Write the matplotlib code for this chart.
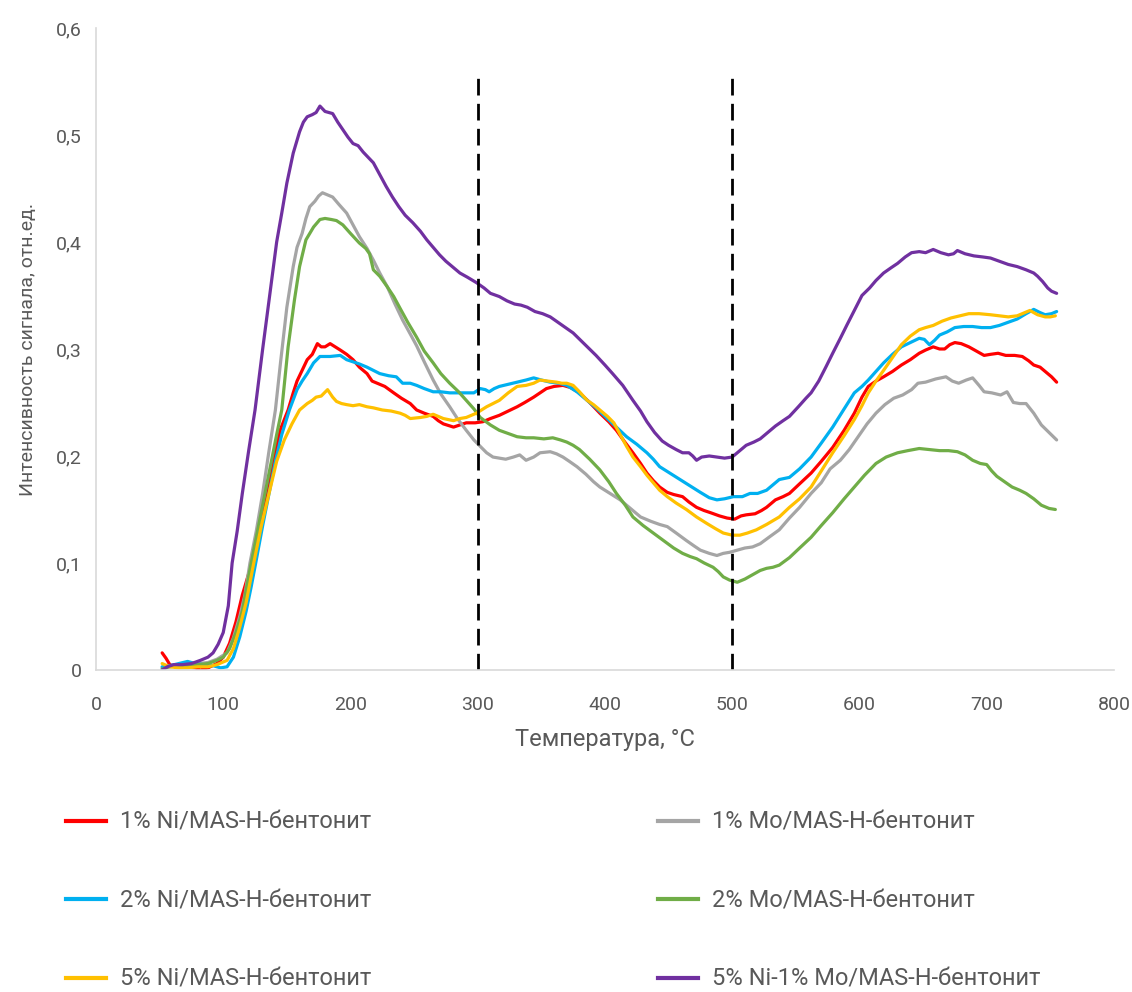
import matplotlib
matplotlib.use('Agg')
import matplotlib.pyplot as plt
from matplotlib.lines import Line2D

plt.rcParams['font.family'] = ['Roboto', 'DejaVu Sans']

# Температура, °C и сигнал для каждого образца
t_ni1 = [52, 55, 58, 62, 70, 78, 82, 88, 95, 100, 105, 110, 115, 120, 125, 130, 135, 140, 145, 151, 155, 158, 162, 166, 170, 174, 177, 180, 184, 188, 192, 197, 202, 207, 213, 217, 221, 227, 234, 240, 247, 252, 258, 265, 269, 273, 281, 286, 291, 298, 304, 310, 317, 324, 331, 337, 344, 349, 354, 360, 367, 373, 380, 388, 396, 403, 409, 415, 422, 428, 433, 438, 443, 449, 454, 461, 466, 472, 478, 483, 490, 496, 502, 507, 511, 518, 523, 527, 534, 540, 545, 553, 562, 570, 579, 588, 596, 602, 607, 613, 619, 626, 633, 640, 647, 652, 658, 663, 667, 671, 675, 680, 686, 692, 698, 703, 709, 715, 722, 728, 733, 737, 742, 746, 751, 755]
v_ni1 = [0.016, 0.011, 0.005, 0.003, 0.003, 0.002, 0.0, 0.002, 0.006, 0.012, 0.025, 0.045, 0.07, 0.09, 0.11, 0.14, 0.17, 0.2, 0.225, 0.243, 0.259, 0.27, 0.28, 0.29, 0.295, 0.305, 0.302, 0.302, 0.305, 0.302, 0.299, 0.295, 0.29, 0.283, 0.277, 0.27, 0.268, 0.265, 0.259, 0.254, 0.249, 0.243, 0.24, 0.237, 0.233, 0.230, 0.227, 0.229, 0.231, 0.231, 0.232, 0.235, 0.238, 0.242, 0.246, 0.25, 0.255, 0.259, 0.263, 0.265, 0.266, 0.264, 0.259, 0.25, 0.240, 0.232, 0.224, 0.214, 0.203, 0.193, 0.184, 0.177, 0.171, 0.166, 0.164, 0.162, 0.157, 0.152, 0.149, 0.147, 0.144, 0.142, 0.141, 0.144, 0.145, 0.146, 0.149, 0.152, 0.159, 0.162, 0.165, 0.174, 0.184, 0.195, 0.208, 0.224, 0.240, 0.255, 0.265, 0.27, 0.274, 0.279, 0.285, 0.29, 0.296, 0.299, 0.302, 0.300, 0.300, 0.304, 0.306, 0.305, 0.302, 0.298, 0.294, 0.295, 0.296, 0.294, 0.294, 0.293, 0.289, 0.285, 0.283, 0.279, 0.274, 0.269]

t_mo1 = [52, 58, 65, 72, 80, 88, 95, 103, 108, 113, 117, 121, 126, 131, 136, 141, 145, 150, 155, 158, 162, 165, 168, 172, 175, 178, 182, 186, 191, 197, 202, 207, 213, 218, 223, 229, 235, 241, 247, 252, 258, 265, 271, 278, 284, 291, 297, 302, 307, 312, 317, 322, 328, 333, 338, 344, 349, 357, 362, 367, 372, 378, 385, 391, 396, 404, 412, 420, 428, 436, 443, 449, 456, 464, 470, 475, 482, 488, 493, 498, 504, 510, 516, 522, 530, 537, 545, 553, 562, 570, 577, 585, 592, 599, 606, 613, 620, 627, 634, 641, 646, 652, 660, 668, 673, 678, 684, 689, 694, 698, 704, 711, 716, 721, 726, 731, 737, 743, 749, 755]
v_mo1 = [0.002, 0.004, 0.005, 0.005, 0.006, 0.007, 0.01, 0.016, 0.03, 0.05, 0.07, 0.1, 0.13, 0.165, 0.205, 0.243, 0.287, 0.339, 0.377, 0.395, 0.408, 0.422, 0.433, 0.438, 0.443, 0.446, 0.444, 0.442, 0.435, 0.427, 0.416, 0.405, 0.394, 0.383, 0.371, 0.358, 0.342, 0.327, 0.314, 0.303, 0.288, 0.271, 0.258, 0.246, 0.235, 0.224, 0.215, 0.209, 0.203, 0.199, 0.198, 0.197, 0.199, 0.201, 0.196, 0.199, 0.203, 0.204, 0.202, 0.199, 0.195, 0.190, 0.183, 0.176, 0.171, 0.165, 0.159, 0.151, 0.143, 0.139, 0.136, 0.134, 0.128, 0.121, 0.116, 0.112, 0.109, 0.107, 0.109, 0.110, 0.112, 0.114, 0.115, 0.118, 0.125, 0.131, 0.142, 0.152, 0.165, 0.175, 0.188, 0.196, 0.206, 0.218, 0.230, 0.240, 0.248, 0.254, 0.257, 0.262, 0.268, 0.269, 0.272, 0.274, 0.270, 0.268, 0.271, 0.273, 0.266, 0.260, 0.259, 0.257, 0.260, 0.250, 0.249, 0.249, 0.24, 0.229, 0.222, 0.215]

t_ni2 = [52, 58, 65, 72, 78, 85, 92, 98, 103, 108, 113, 118, 122, 126, 131, 136, 141, 146, 152, 158, 162, 166, 171, 176, 184, 192, 197, 202, 207, 213, 218, 223, 230, 236, 241, 247, 252, 258, 265, 271, 278, 284, 291, 297, 302, 306, 309, 313, 317, 324, 331, 338, 344, 350, 357, 364, 370, 378, 386, 393, 401, 409, 417, 425, 433, 438, 443, 451, 459, 467, 475, 482, 488, 494, 501, 508, 514, 520, 527, 532, 537, 545, 553, 562, 570, 579, 588, 596, 602, 607, 613, 619, 626, 633, 640, 647, 651, 655, 659, 663, 669, 675, 682, 689, 696, 703, 710, 717, 724, 731, 737, 742, 746, 751, 755]
v_ni2 = [0.003, 0.004, 0.006, 0.008, 0.006, 0.005, 0.004, 0.002, 0.003, 0.012, 0.031, 0.055, 0.078, 0.103, 0.135, 0.165, 0.195, 0.22, 0.243, 0.262, 0.27, 0.277, 0.287, 0.293, 0.293, 0.294, 0.290, 0.288, 0.286, 0.283, 0.28, 0.277, 0.275, 0.274, 0.268, 0.268, 0.266, 0.263, 0.260, 0.26, 0.259, 0.259, 0.259, 0.259, 0.263, 0.262, 0.260, 0.263, 0.265, 0.267, 0.269, 0.271, 0.273, 0.271, 0.269, 0.268, 0.266, 0.26, 0.252, 0.245, 0.236, 0.227, 0.218, 0.211, 0.203, 0.197, 0.190, 0.184, 0.178, 0.172, 0.166, 0.161, 0.159, 0.160, 0.162, 0.162, 0.165, 0.165, 0.168, 0.173, 0.178, 0.180, 0.188, 0.199, 0.212, 0.227, 0.244, 0.259, 0.265, 0.271, 0.279, 0.287, 0.295, 0.302, 0.306, 0.310, 0.309, 0.304, 0.308, 0.313, 0.316, 0.320, 0.321, 0.321, 0.32, 0.320, 0.322, 0.325, 0.328, 0.333, 0.337, 0.334, 0.332, 0.333, 0.335]

t_mo2 = [52, 58, 65, 72, 80, 88, 95, 100, 105, 110, 115, 118, 122, 127, 132, 137, 142, 146, 151, 156, 160, 165, 171, 176, 180, 185, 189, 194, 200, 207, 212, 215, 218, 223, 229, 234, 239, 245, 252, 258, 265, 271, 278, 285, 291, 297, 302, 310, 317, 324, 331, 338, 344, 352, 359, 365, 370, 375, 380, 388, 396, 403, 409, 416, 422, 430, 438, 446, 454, 461, 467, 472, 478, 485, 489, 493, 498, 504, 510, 516, 522, 527, 532, 537, 545, 553, 562, 570, 579, 588, 596, 604, 613, 621, 630, 638, 647, 655, 663, 670, 677, 683, 689, 695, 700, 704, 708, 714, 720, 726, 731, 737, 743, 749, 754]
v_mo2 = [0.001, 0.003, 0.004, 0.004, 0.005, 0.006, 0.009, 0.012, 0.02, 0.035, 0.055, 0.075, 0.1, 0.13, 0.16, 0.19, 0.22, 0.243, 0.302, 0.346, 0.377, 0.402, 0.414, 0.421, 0.422, 0.421, 0.420, 0.416, 0.408, 0.399, 0.394, 0.389, 0.374, 0.368, 0.358, 0.349, 0.338, 0.325, 0.311, 0.298, 0.287, 0.277, 0.268, 0.26, 0.252, 0.244, 0.236, 0.229, 0.224, 0.221, 0.218, 0.217, 0.217, 0.216, 0.217, 0.215, 0.213, 0.21, 0.206, 0.197, 0.187, 0.176, 0.165, 0.154, 0.143, 0.135, 0.128, 0.121, 0.114, 0.109, 0.106, 0.104, 0.100, 0.096, 0.092, 0.087, 0.084, 0.082, 0.085, 0.089, 0.093, 0.095, 0.096, 0.098, 0.105, 0.114, 0.124, 0.135, 0.147, 0.160, 0.171, 0.182, 0.193, 0.199, 0.203, 0.205, 0.207, 0.206, 0.205, 0.205, 0.204, 0.201, 0.196, 0.193, 0.192, 0.186, 0.181, 0.176, 0.171, 0.168, 0.165, 0.16, 0.154, 0.151, 0.150]

t_ni5 = [52, 58, 65, 72, 80, 88, 95, 103, 108, 113, 118, 124, 130, 136, 142, 148, 154, 160, 166, 170, 173, 177, 182, 186, 189, 193, 197, 202, 207, 213, 218, 225, 232, 239, 243, 247, 255, 260, 265, 269, 273, 281, 286, 291, 295, 299, 303, 307, 312, 317, 324, 331, 338, 344, 349, 355, 362, 366, 370, 375, 380, 386, 391, 396, 402, 407, 412, 417, 422, 428, 433, 438, 443, 449, 456, 464, 472, 480, 487, 493, 500, 506, 512, 519, 527, 537, 545, 553, 562, 570, 579, 588, 596, 602, 607, 613, 619, 626, 633, 640, 647, 652, 658, 665, 672, 679, 686, 694, 703, 710, 717, 724, 730, 734, 740, 746, 750, 754]
v_ni5 = [0.006, 0.003, 0.002, 0.002, 0.003, 0.003, 0.005, 0.009, 0.02, 0.04, 0.063, 0.1, 0.135, 0.165, 0.195, 0.215, 0.23, 0.243, 0.249, 0.252, 0.255, 0.256, 0.262, 0.255, 0.251, 0.249, 0.248, 0.247, 0.248, 0.246, 0.245, 0.243, 0.242, 0.240, 0.238, 0.235, 0.236, 0.237, 0.239, 0.237, 0.235, 0.233, 0.235, 0.236, 0.238, 0.240, 0.243, 0.246, 0.249, 0.252, 0.259, 0.265, 0.266, 0.268, 0.271, 0.270, 0.269, 0.268, 0.268, 0.266, 0.26, 0.252, 0.248, 0.243, 0.237, 0.231, 0.22, 0.209, 0.199, 0.190, 0.182, 0.175, 0.168, 0.162, 0.156, 0.150, 0.143, 0.137, 0.132, 0.128, 0.126, 0.126, 0.128, 0.131, 0.136, 0.143, 0.152, 0.16, 0.171, 0.186, 0.203, 0.219, 0.234, 0.247, 0.259, 0.27, 0.280, 0.292, 0.304, 0.312, 0.318, 0.320, 0.322, 0.326, 0.329, 0.331, 0.333, 0.333, 0.332, 0.331, 0.330, 0.331, 0.334, 0.336, 0.332, 0.330, 0.330, 0.331]

t_nimo = [52, 56, 61, 68, 75, 82, 88, 92, 96, 100, 104, 107, 111, 115, 120, 125, 131, 138, 142, 146, 150, 155, 160, 163, 166, 170, 173, 176, 180, 186, 190, 194, 198, 202, 206, 210, 214, 218, 223, 228, 233, 238, 243, 249, 255, 260, 265, 270, 275, 281, 286, 292, 299, 305, 310, 317, 323, 329, 334, 339, 345, 351, 357, 363, 369, 375, 381, 387, 393, 400, 406, 414, 422, 428, 433, 439, 445, 450, 456, 461, 466, 469, 472, 476, 482, 488, 494, 500, 505, 511, 517, 522, 528, 534, 540, 545, 552, 558, 562, 568, 574, 579, 585, 590, 596, 602, 608, 613, 619, 625, 630, 636, 641, 647, 652, 658, 664, 670, 674, 677, 683, 690, 697, 703, 710, 717, 724, 731, 737, 740, 744, 748, 751, 755]
v_nimo = [0.0, 0.003, 0.005, 0.005, 0.006, 0.009, 0.012, 0.016, 0.024, 0.035, 0.06, 0.10, 0.13, 0.165, 0.205, 0.243, 0.3, 0.364, 0.4, 0.427, 0.455, 0.483, 0.503, 0.512, 0.517, 0.519, 0.521, 0.527, 0.522, 0.520, 0.512, 0.505, 0.498, 0.492, 0.490, 0.484, 0.479, 0.474, 0.463, 0.452, 0.442, 0.433, 0.425, 0.418, 0.410, 0.402, 0.395, 0.388, 0.382, 0.376, 0.371, 0.367, 0.362, 0.357, 0.352, 0.349, 0.345, 0.342, 0.341, 0.339, 0.335, 0.333, 0.330, 0.325, 0.320, 0.315, 0.308, 0.301, 0.294, 0.285, 0.277, 0.266, 0.252, 0.242, 0.232, 0.222, 0.214, 0.210, 0.206, 0.203, 0.203, 0.200, 0.196, 0.199, 0.200, 0.199, 0.198, 0.199, 0.204, 0.210, 0.213, 0.216, 0.222, 0.228, 0.233, 0.237, 0.246, 0.254, 0.259, 0.270, 0.284, 0.296, 0.31, 0.322, 0.336, 0.35, 0.357, 0.364, 0.371, 0.376, 0.380, 0.386, 0.390, 0.391, 0.390, 0.393, 0.390, 0.388, 0.389, 0.392, 0.389, 0.387, 0.386, 0.385, 0.382, 0.379, 0.377, 0.374, 0.371, 0.368, 0.363, 0.357, 0.354, 0.352]

series = [
    ('1% Ni/MAS-H-бентонит', t_ni1, v_ni1, '#FF0000'),
    ('1% Mo/MAS-H-бентонит', t_mo1, v_mo1, '#A5A5A5'),
    ('2% Ni/MAS-H-бентонит', t_ni2, v_ni2, '#00B0F0'),
    ('2% Mo/MAS-H-бентонит', t_mo2, v_mo2, '#70AD47'),
    ('5% Ni/MAS-H-бентонит', t_ni5, v_ni5, '#FFC000'),
    ('5% Ni-1% Mo/MAS-H-бентонит', t_nimo, v_nimo, '#7030A0'),
]

# границы областей
borders = [300, 500]
border_top = 0.553

x_ticks = [0, 100, 200, 300, 400, 500, 600, 700, 800]
y_ticks = [0, 0.1, 0.2, 0.3, 0.4, 0.5, 0.6]
y_labels = ['0', '0,1', '0,2', '0,3', '0,4', '0,5', '0,6']

fig = plt.figure(figsize=(11.32, 9.92), dpi=100)
ax = fig.add_axes([0.0848, 0.3246, 0.8992, 0.6472])

for name, t, v, c in series:
    ax.plot(t, v, color=c, lw=2.3, label=name, solid_capstyle='round')

ax.vlines(borders, 0, border_top, colors='black', linestyles=(0, (6, 3)), lw=2)

ax.set_xlim(0, 800)
ax.set_ylim(0, 0.6)
ax.set_xticks(x_ticks)
ax.set_xticklabels([str(x) for x in x_ticks])
ax.set_yticks(y_ticks)
ax.set_yticklabels(y_labels)
ax.tick_params(length=0, labelsize=14, colors='#595959')
ax.tick_params(axis='x', pad=19)
ax.tick_params(axis='y', pad=10)
for s in ['top', 'right']:
    ax.spines[s].set_visible(False)
for s in ['left', 'bottom']:
    ax.spines[s].set_color('#D9D9D9')
    ax.spines[s].set_linewidth(1.2)

ax.set_xlabel('Температура, °C', fontsize=17, color='#595959', labelpad=10)
ax.set_ylabel('Интенсивность сигнала, отн.ед.', fontsize=14, color='#595959', labelpad=14)

# легенда в две колонки
left_col = series[0::2]
right_col = series[1::2]
for col, xpos in [(left_col, 0.05), (right_col, 0.573)]:
    handles = [Line2D([], [], color=c, lw=3) for _, _, _, c in col]
    labels = [n for n, _, _, _ in col]
    leg = fig.legend(handles, labels, loc='upper left', bbox_to_anchor=(xpos, 0.192),
                     frameon=False, fontsize=17, labelspacing=2.35, handlelength=1.7,
                     handletextpad=0.6, borderaxespad=0)
    for txt in leg.get_texts():
        txt.set_color('#595959')

fig.savefig('out.png', dpi=100)
